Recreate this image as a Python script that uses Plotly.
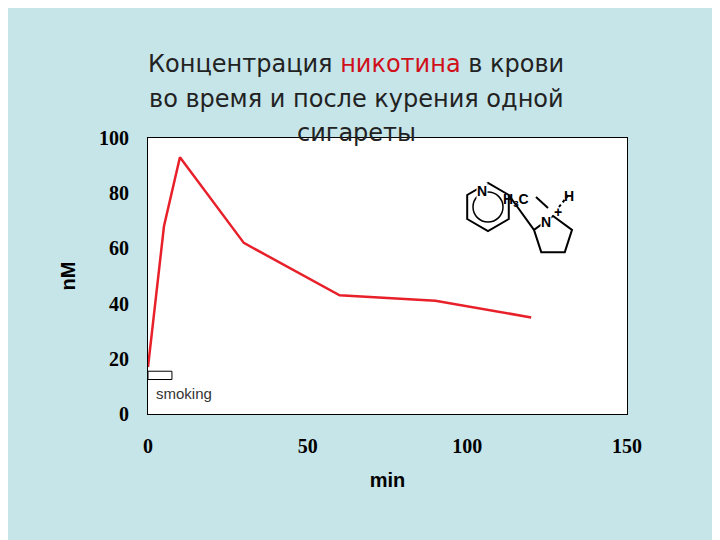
import math
import plotly.graph_objects as go

time_min = [0, 5, 10, 30, 60, 90, 120]
nicotine_nm = [17, 68, 93, 62, 43, 41, 35]
smoking_period = [0, 7.5]
x_ticks = [0, 50, 100, 150]
y_ticks = [0, 20, 40, 60, 80, 100]

fig = go.Figure()
fig.add_trace(go.Scatter(x=time_min, y=nicotine_nm, mode="lines",
                         line=dict(color="#e8202a", width=2.5), showlegend=False))

# smoking bar
fig.add_shape(type="rect", xref="x", yref="y", x0=smoking_period[0], x1=smoking_period[1],
              y0=12.5, y1=15.5, line=dict(color="black", width=1), fillcolor="white")
fig.add_annotation(x=2, y=7.5, xref="x", yref="y", text="smoking", showarrow=False,
                   xanchor="left", font=dict(family="Liberation Sans", size=15, color="#333"))

# nicotine structure drawn in pixel space, converted to paper coords
def P(px, py):
    return (px - 148) / 479, (414 - py) / 276

def poly(pts, close=True):
    s = ""
    for i, (a, b) in enumerate(pts):
        x, y = P(a, b)
        s += ("M" if i == 0 else "L") + f"{x:.4f},{y:.4f} "
    return s + ("Z" if close else "")

hx, hy, r = 488, 207, 24
hexa = [(hx + r * math.cos(math.radians(90 + 60 * k)), hy - r * math.sin(math.radians(90 + 60 * k))) for k in range(6)]
fig.add_shape(type="path", xref="paper", yref="paper", path=poly(hexa), line=dict(color="black", width=2))
fig.add_shape(type="circle", xref="paper", yref="paper",
              x0=P(hx - 15, 0)[0], x1=P(hx + 15, 0)[0], y0=P(0, hy + 15)[1], y1=P(0, hy - 15)[1],
              line=dict(color="black", width=1.5))
px_c, py_c, rp = 553, 236, 20
pent = [(px_c + rp * math.cos(math.radians(90 + 72 * k)), py_c - rp * math.sin(math.radians(90 + 72 * k))) for k in range(5)]
fig.add_shape(type="path", xref="paper", yref="paper", path=poly(pent), line=dict(color="black", width=2))
fig.add_shape(type="path", xref="paper", yref="paper", path=poly([(hx + r * 0.866, hy - 12), pent[1]], False),
              line=dict(color="black", width=2))
fig.add_shape(type="path", xref="paper", yref="paper", path=poly([(548, 208), (536, 197)], False),
              line=dict(color="black", width=2))
fig.add_shape(type="path", xref="paper", yref="paper", path=poly([(559, 207), (570, 193)], False),
              line=dict(color="black", width=2, dash="dot"))
fig.add_shape(type="path", xref="paper", yref="paper", path=poly([(553, 216), (553, 216)], False),
              line=dict(color="black", width=0))
for txt, (a, b), bg in [("<b>N</b>", (488, 182), "white"), ("<b>N</b>", (552, 213), "white"),
                        ("<b>+</b>", (563, 203), None),
                        ("<b>H<sub>3</sub>C</b>", (530, 190), None), ("<b>H</b>", (575, 187), None)]:
    x, y = P(a, b)
    kw = dict(bgcolor=bg) if bg else {}
    fig.add_annotation(x=x, y=y, xref="paper", yref="paper", text=txt, showarrow=False,
                       font=dict(family="Liberation Sans", size=14, color="black"), borderpad=0, **kw)

# title as annotation lines
title_lines = ["Концентрация <span style='color:#d0101a'>никотина</span> в крови",
               "во время и после курения одной", "сигареты"]
for i, line in enumerate(title_lines):
    x, y = P(356, 48 + 34.5 * i)
    fig.add_annotation(x=x, y=y, xref="paper", yref="paper", text=line, showarrow=False,
                       font=dict(family="DejaVu Sans", size=24, color="#222"))

fig.update_layout(
    width=712, height=532,
    margin=dict(l=140, r=93, t=130, b=126),
    paper_bgcolor="#c6e5e9", plot_bgcolor="white",
    xaxis=dict(range=[0, 150], tickvals=x_ticks, showgrid=False, zeroline=False,
               showline=True, linecolor="black", mirror=True, ticks="", ticklabelstandoff=14,
               tickfont=dict(family="Liberation Serif", size=20, color="black", weight="bold"),
               title=dict(text="<b>min</b>", font=dict(family="Liberation Sans", size=20, color="black"), standoff=16)),
    yaxis=dict(range=[0, 100], tickvals=y_ticks, showgrid=False, zeroline=False,
               showline=True, linecolor="black", mirror=True, ticks="", ticklabelstandoff=14,
               tickfont=dict(family="Liberation Serif", size=20, color="black", weight="bold"),
               title=dict(text="<b>nM</b>", font=dict(family="Liberation Sans", size=20, color="black"), standoff=18)),
)
fig.write_html("out.html")
